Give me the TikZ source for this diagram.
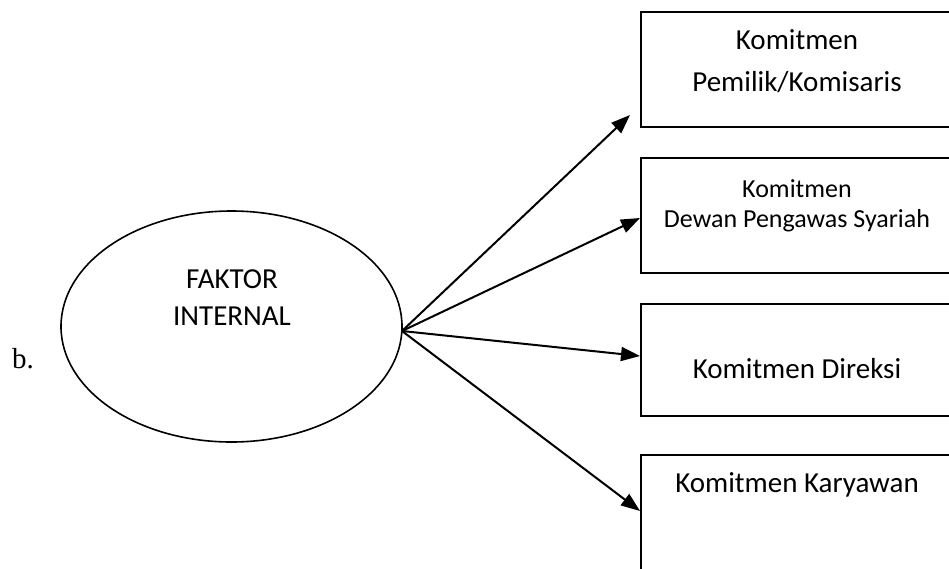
\documentclass[tikz,border=0pt]{standalone}
\usepackage{fontspec}
\setmainfont{Carlito}
\newfontfamily\serifb{Liberation Serif}
\usetikzlibrary{arrows.meta,shapes.geometric}
\tikzset{
  boxnode/.style={draw, line width=1.6pt, minimum width=314pt, inner sep=0pt, anchor=north west},
  lbl/.style={anchor=base, inner sep=0pt, font=\fontsize{29}{34}\selectfont},
  lblsmall/.style={anchor=base, inner sep=0pt, font=\fontsize{26}{31}\selectfont},
  arr/.style={line width=2pt, -{Triangle[length=19pt,width=14pt]}}
}
\begin{document}
\begin{tikzpicture}[x=1pt,y=1pt]
\useasboundingbox (0,0) rectangle (949,-568);
\clip (0,0) rectangle (949,-568);
% ellipse
\node[draw, ellipse, line width=1.6pt, minimum width=341pt, minimum height=231pt, inner sep=0pt] (fi) at (231.5,-326.5) {};
\node[lbl] (t1) at (232,-288) {FAKTOR};
\node[lbl] (t2) at (232,-325) {INTERNAL};
\node[anchor=base west, inner sep=0pt, font=\serifb\fontsize{29}{34}\selectfont] (bl) at (12,-368) {b.};
% boxes
\node[boxnode, minimum height=115pt] (b1) at (640,-11) {};
\node[boxnode, minimum height=115pt] (b2) at (640,-157) {};
\node[boxnode, minimum height=112pt] (b3) at (640,-303) {};
\node[boxnode, minimum height=130pt] (b4) at (640,-454) {};
% box texts
\node[lbl] (k1a) at (797,-49.5) {Komitmen};
\node[lbl] (k1b) at (797,-91) {Pemilik/Komisaris};
\node[lblsmall] (k2a) at (797,-197) {Komitmen};
\node[lblsmall] (k2b) at (797,-227) {Dewan Pengawas Syariah};
\node[lbl] (k3) at (797,-378) {Komitmen Direksi};
\node[lbl] (k4) at (797,-492) {Komitmen Karyawan};
% arrows
\coordinate (src) at (402,-331);
\coordinate (e1) at (630,-115);
\draw[arr] (src) -- (e1);
\draw[arr] (src) -- (b2.west |- 0,-218);
\draw[arr] (src) -- (b3.west |- 0,-356);
\draw[arr] (src) -- (b4.west |- 0,-511);
\end{tikzpicture}
\end{document}
